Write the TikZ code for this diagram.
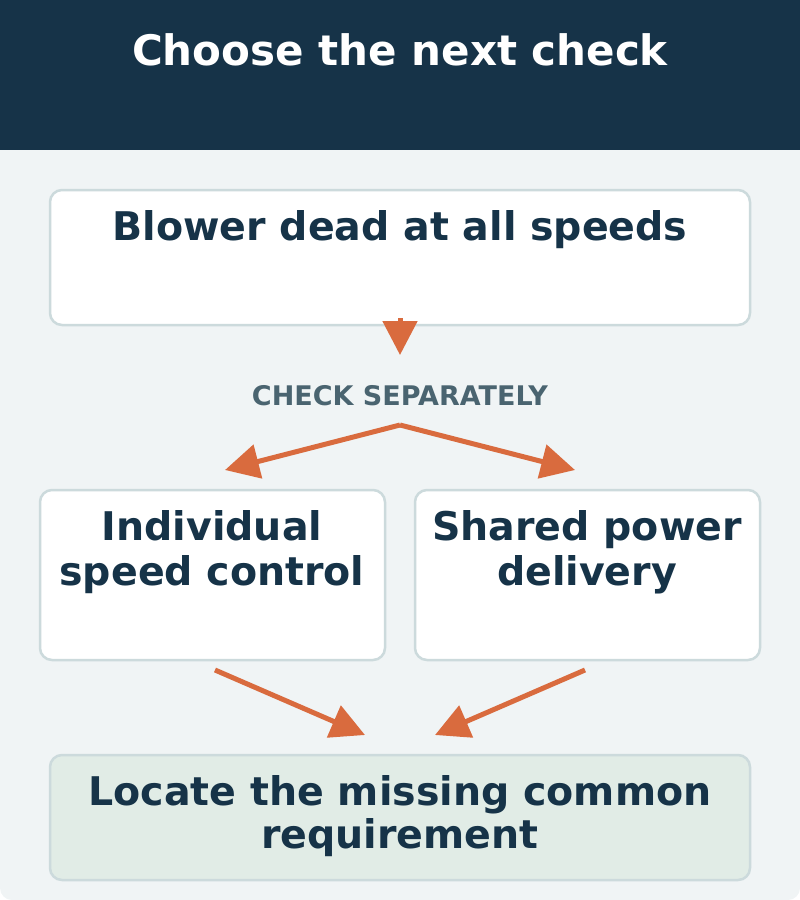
\documentclass[tikz,border=0pt]{standalone}
\usepackage{fontspec}
\setmainfont{DejaVu Sans}
\usetikzlibrary{arrows.meta}
\definecolor{navy}{HTML}{163348}
\definecolor{bg}{HTML}{F0F4F5}
\definecolor{bord}{HTML}{CCDADC}
\definecolor{org}{HTML}{D96B3E}
\definecolor{gr}{HTML}{4A6470}
\definecolor{green}{HTML}{E1ECE6}
\begin{document}
\begin{tikzpicture}[x=1pt,y=-1pt,
 box/.style={draw=bord,line width=2.5pt,rounded corners=12pt,fill=white},
 txt/.style={text=navy,font=\bfseries\fontsize{39.5}{45}\selectfont,align=center},
 arr/.style={draw=org,line width=5pt,-{Triangle[length=34pt,width=34pt]}}]
\useasboundingbox (0,0) rectangle (800,900);
\fill[bg,rounded corners=12pt] (0,0) rectangle (800,900);
\fill[navy] (0,0) rectangle (800,150);
\node[text=white,font=\bfseries\fontsize{42}{48}\selectfont] (title) at (400,50) {Choose the next check};
\draw[box] (50,190) rectangle (750,325);
\node[txt] (b1) at (400,230) {Blower dead at all speeds};
\coordinate (a1s) at (400,318);
\coordinate (a1e) at (400,355);
\draw[arr] (a1s) -- (a1e);
\node[text=gr,font=\bfseries\fontsize{27}{32}\selectfont] (lab) at (400,396) {CHECK SEPARATELY};
\coordinate (fork) at (400,425);
\coordinate (l) at (225,470);
\coordinate (r) at (575,470);
\draw[arr] (fork) -- (l);
\draw[arr] (fork) -- (r);
\draw[box] (40,490) rectangle (385,660);
\node[txt] (b2) at (212,552) {Individual\\speed control};
\draw[box] (415,490) rectangle (760,660);
\node[txt] (b3) at (587,552) {Shared power\\delivery};
\coordinate (s2) at (215,670);
\coordinate (e2) at (365,735);
\coordinate (s3) at (585,670);
\coordinate (e3) at (435,735);
\draw[arr] (s2) -- (e2);
\draw[arr] (s3) -- (e3);
\draw[box,fill=green] (50,755) rectangle (750,880);
\node[txt,font=\bfseries\fontsize{39.5}{43}\selectfont] (b4) at (400,816) {Locate the missing common\\requirement};
\end{tikzpicture}
\end{document}
